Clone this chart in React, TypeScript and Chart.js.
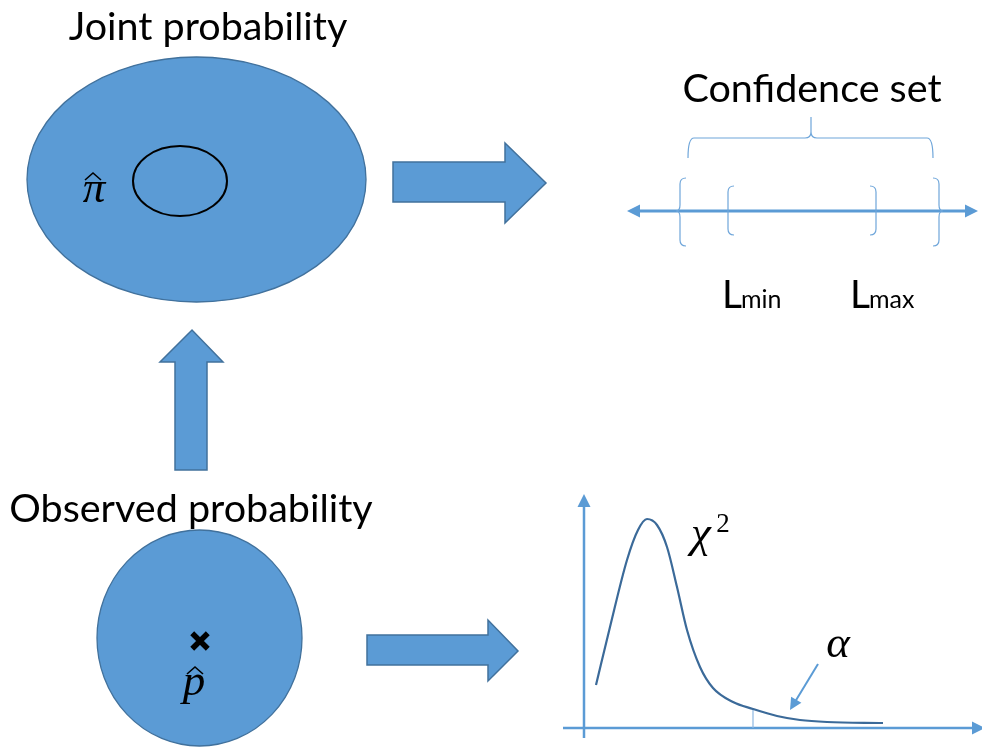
import { useEffect, useRef } from 'react';
import { Chart, registerables } from 'chart.js';

Chart.register(...registerables);

const W = 982;
const H = 749;

// ---- Ellipses: joint region, confidence region, observed region ----
const ellipseCX = [196.5, 180, 199.5];
const ellipseCY = [179.5, 181, 638];
const ellipseRX = [169.5, 47, 102.5];
const ellipseRY = [122.5, 35, 108];
const ellipseFilled = [true, false, true];

// ---- Block arrows (polygon vertices) ----
const arrowTopX = [393, 505, 505, 546, 505, 505, 393];
const arrowTopY = [162, 162, 143, 183, 223, 202, 202];
const arrowUpX = [175, 175, 160, 192, 223, 207, 207];
const arrowUpY = [470, 362, 362, 330, 362, 362, 470];
const arrowBottomX = [367, 488, 488, 518, 488, 488, 367];
const arrowBottomY = [635, 635, 620, 651, 681, 665, 665];

// ---- Number line ----
const numberLineX = [627, 978];
const numberLineY = 211;
const bracketX = [680, 939, 728, 876];
const bracketTop = [178, 178, 186, 186];
const bracketBottom = [246, 246, 235, 235];
const bracketDir = [-1, 1, -1, 1];
const bracketNotch = [true, true, false, false];
const topBraceX = [688, 811, 933];
const topBraceY = [158, 138, 117];

// ---- Chi-square density sketch ----
const chiX = [596, 610, 627, 638, 647, 657, 667, 677, 687, 700, 713, 733, 753, 777, 800, 827, 883];
const chiY = [685, 627, 560, 530, 519, 525, 547, 587, 630, 667, 688, 702, 709, 716, 720, 722, 723];
const chiAxisX = [584, 563, 985];
const chiAxisY = [738, 494, 728];
const criticalX = 753;
const criticalY = [709, 728];
const alphaArrowX = [818, 790];
const alphaArrowY = [664, 710];

// ---- Point estimate ----
const pointX = [200];
const pointY = [641];

// ---- Text labels ----
const titleTexts = ['Joint probability', 'Observed probability', 'Confidence set'];
const titleX = [208, 191, 812];
const titleY = [40, 522, 102];
const limitTexts = ['min', 'max'];
const limitX = [722, 850];
const limitY = 308;
const mathTexts = ['π', 'p', 'χ', 'α'];
const mathX = [94, 194, 701, 838];
const mathY = [202, 695, 547, 657];
const hatX = [93, 195];
const hatY = [176, 670];
const superText = '2';
const superX = 723;
const superY = 532;

const FILL = '#5B9BD5';
const EDGE = '#41719C';
const LINE = '#5B9BD5';

const diagramPlugin = {
  id: 'diagram',
  beforeDatasetsDraw(chart: any) {
    const ctx = chart.ctx as CanvasRenderingContext2D;
    const sx = chart.scales.x;
    const sy = chart.scales.y;
    const X = (v: number) => sx.getPixelForValue(v);
    const Y = (v: number) => sy.getPixelForValue(v);
    ctx.save();

    // ellipses
    ellipseCX.forEach((cx, i) => {
      const rx = Math.abs(X(cx + ellipseRX[i]) - X(cx));
      const ry = Math.abs(Y(ellipseCY[i] + ellipseRY[i]) - Y(ellipseCY[i]));
      ctx.beginPath();
      ctx.ellipse(X(cx), Y(ellipseCY[i]), rx, ry, 0, 0, Math.PI * 2);
      if (ellipseFilled[i]) {
        ctx.fillStyle = FILL;
        ctx.fill();
        ctx.strokeStyle = EDGE;
        ctx.lineWidth = 1.3;
      } else {
        ctx.strokeStyle = '#000';
        ctx.lineWidth = 2;
      }
      ctx.stroke();
    });

    // block arrows
    const poly = (xs: number[], ys: number[]) => {
      ctx.beginPath();
      xs.forEach((x, i) => (i === 0 ? ctx.moveTo(X(x), Y(ys[i])) : ctx.lineTo(X(x), Y(ys[i]))));
      ctx.closePath();
      ctx.fillStyle = FILL;
      ctx.fill();
      ctx.strokeStyle = EDGE;
      ctx.lineWidth = 1.5;
      ctx.lineJoin = 'miter';
      ctx.stroke();
    };
    poly(arrowTopX, arrowTopY);
    poly(arrowUpX, arrowUpY);
    poly(arrowBottomX, arrowBottomY);

    const tri = (tx: number, ty: number, ang: number, len: number, half: number) => {
      const x0 = X(tx);
      const y0 = Y(ty);
      const bx = x0 - Math.cos(ang) * len;
      const by = y0 - Math.sin(ang) * len;
      const nx = -Math.sin(ang) * half;
      const ny = Math.cos(ang) * half;
      ctx.beginPath();
      ctx.moveTo(x0, y0);
      ctx.lineTo(bx + nx, by + ny);
      ctx.lineTo(bx - nx, by - ny);
      ctx.closePath();
      ctx.fill();
    };

    // number line with two arrowheads
    ctx.strokeStyle = LINE;
    ctx.fillStyle = LINE;
    ctx.lineWidth = 3;
    ctx.beginPath();
    ctx.moveTo(X(numberLineX[0] + 8), Y(numberLineY));
    ctx.lineTo(X(numberLineX[1] - 8), Y(numberLineY));
    ctx.stroke();
    tri(numberLineX[0], numberLineY, Math.PI, 13, 6.5);
    tri(numberLineX[1], numberLineY, 0, 13, 6.5);

    // brackets
    ctx.lineWidth = 1.2;
    ctx.strokeStyle = '#6FA6DA';
    bracketX.forEach((bx, i) => {
      const d = bracketDir[i];
      const x = X(bx);
      const t = Y(bracketTop[i]);
      const b = Y(bracketBottom[i]);
      const r = 6;
      ctx.beginPath();
      ctx.moveTo(x - d * r, t);
      ctx.quadraticCurveTo(x, t, x, t + r);
      if (bracketNotch[i]) {
        const m = Y(numberLineY);
        ctx.lineTo(x, m - r);
        ctx.quadraticCurveTo(x, m, x + d * 4, m);
        ctx.moveTo(x + d * 4, m);
        ctx.quadraticCurveTo(x, m, x, m + r);
      }
      ctx.lineTo(x, b - r);
      ctx.quadraticCurveTo(x, b, x - d * r, b);
      ctx.stroke();
    });

    // top brace
    {
      const x1 = X(topBraceX[0]);
      const xm = X(topBraceX[1]);
      const x2 = X(topBraceX[2]);
      const ye = Y(topBraceY[0]);
      const yh = Y(topBraceY[1]);
      const yt = Y(topBraceY[2]);
      const r = 6;
      ctx.beginPath();
      ctx.moveTo(x1, ye);
      ctx.quadraticCurveTo(x1, yh, x1 + r, yh);
      ctx.lineTo(xm - r, yh);
      ctx.quadraticCurveTo(xm, yh, xm, yh - r);
      ctx.lineTo(xm, yt);
      ctx.moveTo(xm, yh - r);
      ctx.quadraticCurveTo(xm, yh, xm + r, yh);
      ctx.lineTo(x2 - r, yh);
      ctx.quadraticCurveTo(x2, yh, x2, ye);
      ctx.stroke();
    }

    // chi-square axes
    ctx.strokeStyle = LINE;
    ctx.fillStyle = LINE;
    ctx.lineWidth = 2.5;
    ctx.beginPath();
    ctx.moveTo(X(chiAxisX[0]), Y(chiAxisY[0]));
    ctx.lineTo(X(chiAxisX[0]), Y(chiAxisY[1] + 10));
    ctx.moveTo(X(chiAxisX[1]), Y(chiAxisY[2]));
    ctx.lineTo(X(chiAxisX[2] - 8), Y(chiAxisY[2]));
    ctx.stroke();
    tri(chiAxisX[0], chiAxisY[1], -Math.PI / 2, 13, 6.5);
    tri(chiAxisX[2], chiAxisY[2], 0, 13, 6.5);

    // critical value marker
    ctx.lineWidth = 1.2;
    ctx.strokeStyle = '#8DB8E2';
    ctx.beginPath();
    ctx.moveTo(X(criticalX), Y(criticalY[0]));
    ctx.lineTo(X(criticalX), Y(criticalY[1]));
    ctx.stroke();

    // alpha pointer
    {
      const ang = Math.atan2(Y(alphaArrowY[1]) - Y(alphaArrowY[0]), X(alphaArrowX[1]) - X(alphaArrowX[0]));
      ctx.strokeStyle = LINE;
      ctx.fillStyle = LINE;
      ctx.lineWidth = 2;
      ctx.beginPath();
      ctx.moveTo(X(alphaArrowX[0]), Y(alphaArrowY[0]));
      ctx.lineTo(X(alphaArrowX[1]) - Math.cos(ang) * 8, Y(alphaArrowY[1]) - Math.sin(ang) * 8);
      ctx.stroke();
      tri(alphaArrowX[1], alphaArrowY[1], ang, 12, 6);
    }
    ctx.restore();
  },
  afterDatasetsDraw(chart: any) {
    const ctx = chart.ctx as CanvasRenderingContext2D;
    const X = (v: number) => chart.scales.x.getPixelForValue(v);
    const Y = (v: number) => chart.scales.y.getPixelForValue(v);
    ctx.save();
    ctx.fillStyle = '#000';
    ctx.textBaseline = 'alphabetic';

    ctx.font = '39.5px Lato';
    ctx.textAlign = 'center';
    titleTexts.forEach((t, i) => ctx.fillText(t, X(titleX[i]), Y(titleY[i])));

    ctx.textAlign = 'left';
    limitTexts.forEach((t, i) => {
      ctx.font = '39px Lato';
      ctx.fillText('L', X(limitX[i]), Y(limitY));
      const w = ctx.measureText('L').width;
      ctx.font = '25px Lato';
      ctx.fillText(t, X(limitX[i]) + w - 1, Y(limitY));
    });

    ctx.font = 'italic 45px "Liberation Serif"';
    ctx.textAlign = 'center';
    mathTexts.forEach((t, i) => ctx.fillText(t, X(mathX[i]), Y(mathY[i])));
    ctx.font = '27px "Liberation Serif"';
    ctx.fillText(superText, X(superX), Y(superY));

    // hats
    ctx.strokeStyle = '#000';
    ctx.lineWidth = 1.6;
    hatX.forEach((hx, i) => {
      ctx.beginPath();
      ctx.moveTo(X(hx) - 8, Y(hatY[i]) + 4);
      ctx.lineTo(X(hx), Y(hatY[i]) - 3);
      ctx.lineTo(X(hx) + 8, Y(hatY[i]) + 4);
      ctx.stroke();
    });
    ctx.restore();
  },
};

export default function App() {
  const ref = useRef<HTMLCanvasElement | null>(null);
  useEffect(() => {
    document.body.style.margin = '0';
    const canvas = ref.current;
    if (!canvas) return;
    const chart = new Chart(canvas, {
      type: 'scatter',
      data: {
        datasets: [
          {
            type: 'line',
            data: chiX.map((x, i) => ({ x, y: chiY[i] })),
            borderColor: '#3B6A99',
            borderWidth: 2.2,
            pointRadius: 0,
            cubicInterpolationMode: 'monotone',
            fill: false,
          } as any,
          {
            data: pointX.map((x, i) => ({ x, y: pointY[i] })),
            pointStyle: 'crossRot',
            pointRadius: 11,
            borderWidth: 5.5,
            borderColor: '#000',
            backgroundColor: '#000',
          },
        ],
      },
      options: {
        animation: false,
        responsive: false,
        events: [],
        layout: { padding: 0, autoPadding: false },
        plugins: { legend: { display: false }, tooltip: { enabled: false } },
        scales: {
          x: { type: 'linear', min: 0, max: W, display: false },
          y: { type: 'linear', min: 0, max: H, reverse: true, display: false },
        },
      },
      plugins: [diagramPlugin],
    });
    return () => chart.destroy();
  }, []);
  return (
    <div style={{ position: 'absolute', left: 0, top: 0, width: W, height: H, background: '#fff' }}>
      <canvas ref={ref} width={W} height={H} style={{ display: 'block' }} />
    </div>
  );
}
